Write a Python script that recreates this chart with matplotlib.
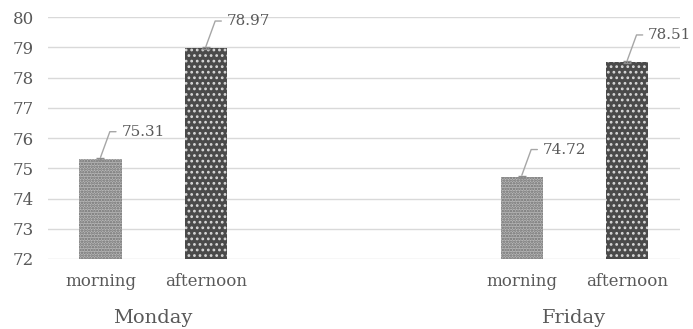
import matplotlib
matplotlib.use('Agg')
from matplotlib import pyplot as plt

days = ['Monday', 'Friday']
periods = ['morning', 'afternoon']
values = [75.31, 78.97, 74.72, 78.51]
slots = [0, 1, 4, 5]
yticks = [72, 73, 74, 75, 76, 77, 78, 79, 80]

txt = '#595959'
plt.rcParams['font.family'] = ['DejaVu Serif']
plt.rcParams['hatch.linewidth'] = 1.2

fig = plt.figure(figsize=(6.93, 3.29), dpi=100)
ax = fig.add_axes([0.069, 0.2128, 0.912, 0.7352])

styles = [('#b8b8b8', '#6e6e6e', '......'), ('#4a4a4a', '#d8d8d8', '...')]
for i, (x, v) in enumerate(zip(slots, values)):
  fc, hc, h = styles[i % 2]
  ax.bar(x, v - 72, bottom=72, width=0.4, color=fc, edgecolor=hc, lw=0, hatch=h, zorder=2)
  ax.errorbar(x, v, yerr=0.03, color='#8c8c8c', capsize=3, lw=0.8, zorder=3)
  ax.annotate('%.2f' % v, xy=(x, v + 0.05), xytext=(x + 0.2, v + 0.9),
              fontsize=11, color=txt, va='center', ha='left',
              arrowprops=dict(arrowstyle='-', color='#a6a6a6', lw=1,
                              connectionstyle='angle,angleA=0,angleB=70,rad=0',
                              shrinkA=2, shrinkB=0))

ax.set_xlim(-0.5, 5.5)
ax.set_ylim(72, 80)
ax.set_yticks(yticks)
ax.set_xticks(slots)
ax.set_xticklabels(periods * 2)
ax.grid(axis='y', color='#d9d9d9', lw=1, zorder=0)
for s in ax.spines.values():
  s.set_visible(False)
ax.tick_params(length=0, labelsize=12, colors=txt)
ax.tick_params(axis='y', pad=10)
ax.tick_params(axis='x', pad=10)
for d, x in zip(days, [0.5, 4.5]):
  ax.text(x, -0.245, d, transform=ax.get_xaxis_transform(), ha='center', va='center',
          fontsize=14, color=txt)

fig.savefig('out.png', dpi=100)
